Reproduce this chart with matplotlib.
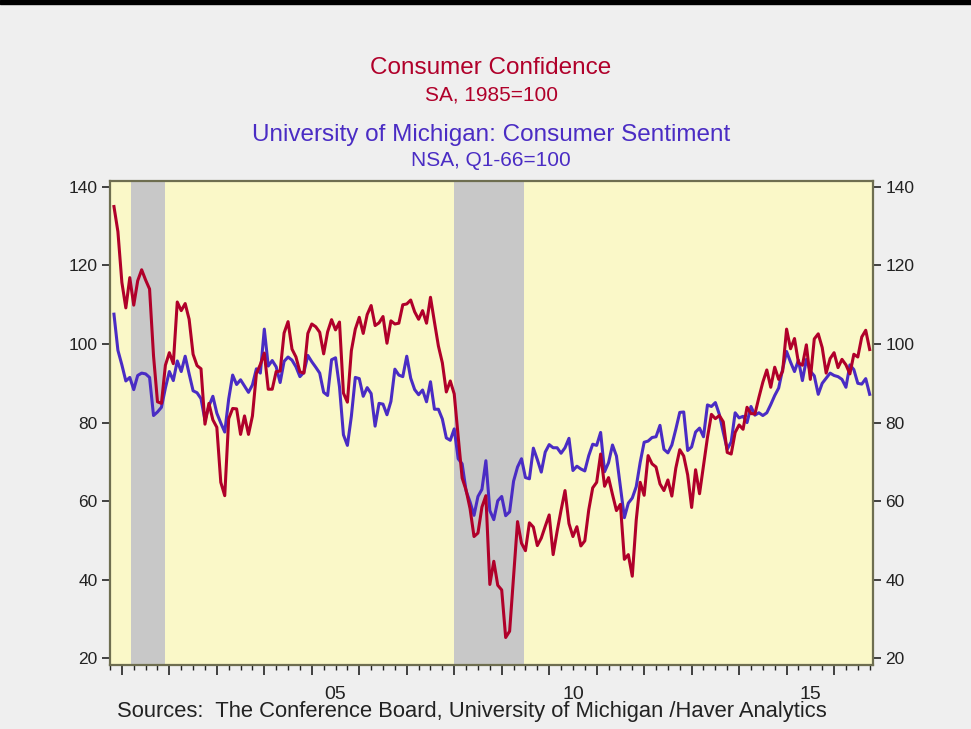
import matplotlib
matplotlib.use("Agg")
import matplotlib.pyplot as plt
import matplotlib.transforms as mtransforms
import numpy as np

plt.rcParams['font.family'] = ['Liberation Sans', 'DejaVu Sans']

# Monthly data, Nov 2000 .. Oct 2016
start_year, start_month = 2000, 11

conf_board = [
    135.0, 128.6,
    115.7, 109.2, 116.9, 109.9, 116.1, 118.9, 116.3, 114.0, 97.0, 85.3, 84.9, 94.6,
    97.8, 95.0, 110.7, 108.5, 110.3, 106.3, 97.4, 94.5, 93.7, 79.6, 84.9, 80.7,
    78.8, 64.8, 61.4, 81.0, 83.6, 83.5, 77.0, 81.7, 77.0, 81.7, 92.5, 94.8,
    97.7, 88.5, 88.5, 93.0, 93.1, 102.8, 105.7, 98.7, 96.7, 92.9, 92.6, 102.7,
    105.1, 104.4, 103.0, 97.5, 103.1, 106.2, 103.6, 105.6, 87.5, 85.2, 98.3, 103.8,
    106.8, 102.7, 107.5, 109.8, 104.7, 105.4, 107.0, 100.2, 105.9, 105.1, 105.3, 110.0,
    110.2, 111.2, 108.2, 106.3, 108.5, 105.3, 111.9, 105.6, 99.5, 95.2, 87.8, 90.6,
    87.3, 76.4, 65.9, 62.8, 58.1, 51.0, 51.9, 58.5, 61.4, 38.8, 44.7, 38.6,
    37.4, 25.3, 26.9, 40.8, 54.8, 49.3, 47.4, 54.5, 53.4, 48.7, 50.6, 53.6,
    56.5, 46.4, 52.3, 57.7, 62.7, 54.3, 51.0, 53.5, 48.6, 49.9, 57.8, 63.4,
    64.8, 72.0, 63.8, 66.0, 61.7, 57.6, 59.2, 45.2, 46.4, 40.9, 55.2, 64.8,
    61.5, 71.6, 69.5, 68.7, 64.4, 62.7, 65.4, 61.3, 68.4, 73.1, 71.5, 66.7,
    58.4, 68.0, 61.9, 69.0, 76.2, 82.1, 81.0, 81.8, 80.2, 72.4, 72.0, 77.5,
    79.4, 78.3, 83.9, 82.3, 82.2, 86.4, 90.3, 93.4, 89.0, 94.1, 91.0, 93.1,
    103.8, 98.8, 101.4, 95.2, 94.6, 99.8, 91.0, 101.3, 102.6, 99.1, 92.6, 96.3,
    97.8, 94.0, 96.1, 94.7, 92.4, 97.4, 96.7, 101.8, 103.5, 98.6,
]

michigan = [
    107.6, 98.4,
    94.7, 90.6, 91.5, 88.4, 92.0, 92.6, 92.4, 91.5, 81.8, 82.7, 83.9, 88.8,
    93.0, 90.7, 95.7, 93.0, 96.9, 92.4, 88.1, 87.6, 86.1, 80.6, 84.2, 86.7,
    82.4, 79.9, 77.6, 86.0, 92.1, 89.7, 90.9, 89.3, 87.7, 89.6, 93.7, 92.6,
    103.8, 94.4, 95.8, 94.2, 90.2, 95.6, 96.7, 95.9, 94.2, 91.7, 92.8, 97.1,
    95.5, 94.1, 92.6, 87.7, 86.9, 96.0, 96.5, 89.1, 76.9, 74.2, 81.6, 91.5,
    91.2, 86.7, 88.9, 87.4, 79.1, 84.9, 84.7, 82.0, 85.4, 93.6, 92.1, 91.7,
    96.9, 91.3, 88.4, 87.1, 88.3, 85.3, 90.4, 83.4, 83.4, 80.9, 76.1, 75.5,
    78.4, 70.8, 69.5, 62.6, 59.8, 56.4, 61.2, 63.0, 70.3, 57.6, 55.3, 60.1,
    61.2, 56.3, 57.3, 65.1, 68.7, 70.8, 66.0, 65.7, 73.5, 70.6, 67.4, 72.5,
    74.4, 73.6, 73.6, 72.2, 73.6, 76.0, 67.8, 68.9, 68.2, 67.7, 71.6, 74.5,
    74.2, 77.5, 67.5, 69.8, 74.3, 71.5, 63.7, 55.8, 59.5, 60.8, 63.7, 69.9,
    75.0, 75.3, 76.2, 76.4, 79.3, 73.2, 72.3, 74.3, 78.3, 82.6, 82.7, 72.9,
    73.8, 77.6, 78.6, 76.4, 84.5, 84.1, 85.1, 82.1, 77.5, 73.2, 75.1, 82.5,
    81.2, 81.6, 80.0, 84.1, 81.9, 82.5, 81.8, 82.5, 84.6, 86.9, 88.8, 93.6,
    98.1, 95.4, 93.0, 95.9, 90.7, 96.1, 93.1, 91.9, 87.2, 90.0, 91.3, 92.6,
    92.0, 91.7, 91.0, 89.0, 94.7, 93.5, 90.0, 89.8, 91.2, 87.2,
]

recessions = [(2001.2, 2001.9), (2008.0, 2009.47)]
year_labels = ["05", "10", "15"]
label_years = [2005, 2010, 2015]
yticks = [20, 40, 60, 80, 100, 120, 140]

titles = [
    ("Consumer Confidence", 1 - 68/729, 17.5),
    ("SA, 1985=100", 1 - 95/729, 15),
    ("University of Michigan: Consumer Sentiment", 1 - 135/729, 17.5),
    ("NSA, Q1-66=100", 1 - 160/729, 15),
]
red = '#B0002A'
blue = '#4A2CC4'

n = len(conf_board)
x = start_year + (start_month - 1) / 12 + np.arange(n) / 12.0

fig = plt.figure(figsize=(9.71, 7.29), dpi=100, facecolor='#EFEFEF')
# top black band
fig.patches.append(plt.Rectangle((0, 0.994), 1, 0.006, transform=fig.transFigure,
                                 color='black', zorder=0))

ax = fig.add_axes([110/971, 1 - 665/729, (873-110)/971, (665-181)/729])
ax.set_facecolor('#FAF8C8')

for a, b in recessions:
    ax.axvspan(a, b, color='#C8C8C8', lw=0, zorder=1)

ax.plot(x, michigan, color=blue, lw=2.2, zorder=3, solid_joinstyle='round')
ax.plot(x, conf_board, color=red, lw=2.2, zorder=4, solid_joinstyle='round')

ax.set_xlim(2000.79, 2016.82)
ax.set_ylim(18.3, 141.5)

ax.set_yticks(yticks)
ax.set_yticklabels([str(v) for v in yticks])
ax.tick_params(axis='y', which='both', direction='out', length=6, width=1.2,
               left=True, right=True, labelleft=True, labelright=True,
               labelsize=12.5, colors='#222222', pad=3)

ax.set_xticks(np.arange(2001, 2017))
ax.set_xticklabels([])
ax.set_xticks(np.arange(2000.75, 2016.8, 0.25), minor=True)
ax.tick_params(axis='x', which='major', direction='out', length=7, width=1.2, color='#222222')
ax.tick_params(axis='x', which='minor', direction='out', length=3.5, width=1.0, color='#222222')

trans = mtransforms.blended_transform_factory(ax.transData, ax.transAxes)
for lab, yr in zip(year_labels, label_years):
    ax.text(yr + 0.5, -0.043, lab, transform=trans, ha='center', va='top',
            fontsize=14, color='#222222')

for sp in ax.spines.values():
    sp.set_color('#6E6E50')
    sp.set_linewidth(1.6)

for i, (t, yy, fs) in enumerate(titles):
    fig.text(491/971, yy, t, ha='center', va='center', fontsize=fs,
             color=red if i < 2 else blue)

fig.text(117/971, 1 - 712/729, "Sources:  The Conference Board, University of Michigan /Haver Analytics",
         ha='left', va='center', fontsize=15.8, color='#222222')

fig.savefig('out.png', dpi=100, facecolor=fig.get_facecolor())
